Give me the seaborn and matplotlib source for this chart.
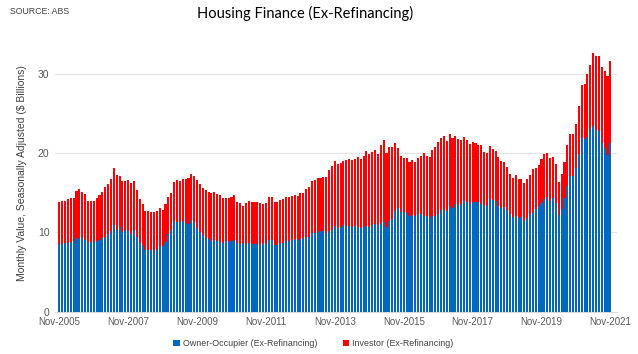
import matplotlib
matplotlib.use("Agg")
import matplotlib.pyplot as plt
from matplotlib.patches import Patch
import numpy as np
import pandas as pd
import seaborn as sns

# ---- data (monthly, Nov-2005 .. Nov-2021), $ billions ----
owner = [
    8.5, 8.55, 8.6, 8.7, 8.8, 8.85, 9.3, 9.2, 9.4, 9.05, 8.75, 8.75,
    8.75, 8.9, 9.0, 9.25, 9.45, 9.8, 10.2, 10.9, 10.3, 10.6, 10.0, 10.25,
    10.2, 9.8, 10.3, 9.4, 8.6, 8.3, 7.8, 7.8, 7.75, 7.6, 7.9, 8.2,
    8.3, 8.8, 9.8, 10.3, 11.4, 11.35, 11.3, 11.4, 11.15, 11.05, 11.6, 11.3,
    10.5, 10.05, 9.6, 9.3, 9.2, 8.9, 9.05, 8.85, 8.8, 8.7, 8.85, 8.8,
    8.9, 9.0, 8.6, 8.55, 8.65, 8.5, 8.65, 8.55, 8.55, 8.55, 8.4, 8.6,
    8.55, 9.05, 9.0, 8.35, 8.4, 8.6, 8.65, 8.85, 8.85, 9.05, 9.1, 9.05,
    9.2, 9.25, 9.45, 9.45, 9.95, 9.9, 10.0, 10.1, 10.1, 9.9, 10.15, 10.3,
    10.75, 10.5, 10.65, 10.85, 10.8, 10.8, 10.65, 10.8, 10.7, 10.5, 10.6, 10.8,
    10.7, 10.85, 11.05, 10.9, 11.2, 11.25, 10.6, 11.45, 11.7, 12.65, 13.0, 12.6,
    12.5, 12.45, 12.1, 12.2, 12.05, 12.35, 12.25, 12.1, 12.0, 11.8, 12.0, 12.05,
    12.35, 12.8, 12.85, 12.7, 13.3, 13.1, 13.5, 13.45, 13.6, 13.95, 13.8, 13.5,
    13.85, 13.8, 13.75, 13.6, 13.4, 13.35, 14.2, 14.05, 13.9, 13.3, 13.05, 13.15,
    12.75, 12.3, 11.9, 12.1, 11.75, 11.9, 11.4, 11.8, 12.3, 12.6, 12.9, 13.3,
    13.7, 14.2, 14.45, 13.9, 14.3, 13.65, 12.15, 12.9, 14.3, 15.85, 17.1, 17.1,
    18.15, 19.9, 21.9, 21.75, 22.0, 23.0, 23.4, 22.85, 22.8, 21.25, 20.65, 19.8,
    21.3,
]
investor = [
    5.35, 5.35, 5.4, 5.5, 5.5, 5.45, 5.9, 6.2, 5.7, 5.75, 5.15, 5.25,
    5.15, 5.4, 5.7, 5.85, 6.25, 6.3, 6.55, 7.2, 6.9, 6.5, 6.5, 6.15,
    6.4, 6.4, 6.2, 5.9, 5.6, 5.3, 4.85, 4.85, 4.85, 4.9, 4.8, 4.85,
    4.55, 4.8, 4.7, 4.7, 4.9, 5.2, 5.1, 5.3, 5.55, 5.8, 5.8, 5.8,
    6.1, 6.05, 5.95, 6.0, 5.9, 6.05, 6.0, 5.95, 5.9, 5.65, 5.45, 5.55,
    5.5, 5.7, 5.25, 5.15, 4.65, 5.2, 5.25, 5.25, 5.3, 5.3, 5.25, 4.9,
    5.15, 5.35, 5.4, 5.45, 5.45, 5.45, 5.6, 5.55, 5.55, 5.5, 5.65, 5.55,
    5.7, 5.75, 6.05, 6.25, 6.55, 6.65, 6.8, 6.75, 6.9, 7.1, 7.7, 8.05,
    8.2, 8.15, 8.1, 8.15, 8.25, 8.4, 8.4, 8.45, 8.75, 8.7, 9.05, 9.45,
    9.15, 9.25, 9.35, 8.95, 9.75, 10.35, 9.35, 9.35, 9.1, 8.65, 7.6, 7.05,
    6.85, 6.9, 6.7, 6.85, 6.85, 7.0, 7.35, 7.85, 7.65, 7.7, 8.35, 8.75,
    9.0, 9.1, 9.3, 8.85, 9.1, 8.8, 8.6, 8.3, 8.05, 8.05, 7.85, 7.6,
    7.5, 7.4, 7.25, 7.4, 6.7, 6.6, 6.65, 6.45, 6.4, 6.2, 5.95, 5.7,
    5.45, 5.0, 5.0, 5.1, 4.95, 4.8, 4.75, 4.95, 4.95, 5.4, 5.15, 5.2,
    5.55, 5.65, 5.5, 5.4, 5.2, 4.9, 4.15, 4.5, 4.6, 5.1, 5.25, 5.25,
    5.5, 6.05, 6.65, 7.0, 8.0, 8.1, 9.25, 9.35, 9.45, 9.6, 9.65, 9.85,
    10.3,
]
months = pd.date_range("2005-11-01", "2021-11-01", freq="MS").strftime("%b-%Y").tolist()
tick_labels = ["Nov-2005", "Nov-2007", "Nov-2009", "Nov-2011", "Nov-2013",
               "Nov-2015", "Nov-2017", "Nov-2019", "Nov-2021"]
y_ticks = [0, 10, 20, 30]

series_names = ["Owner-Occupier (Ex-Refinancing)", "Investor (Ex-Refinancing)"]
BLUE = "#0068BE"
RED = "#FF0000"

df = pd.DataFrame({"month": months, "owner": owner, "investor": investor})
df["total"] = df["owner"] + df["investor"]

sns.set_theme(style="white")
plt.rcParams["font.family"] = ["Liberation Sans", "DejaVu Sans"]

fig = plt.figure(figsize=(6.38, 3.54), dpi=100)
ax = fig.add_axes([55 / 638, 42.5 / 354, 562 / 638, 277.5 / 354])

sns.barplot(data=df, x="month", y="total", color=RED, saturation=1,
            width=0.72, ax=ax, linewidth=0, zorder=2)
sns.barplot(data=df, x="month", y="owner", color=BLUE, saturation=1,
            width=0.72, ax=ax, linewidth=0, zorder=3)

ax.set_xlim(-1.5, 194.3)
ax.set_ylim(0, 35)
ax.set_yticks(y_ticks)
ax.set_yticklabels([str(v) for v in y_ticks], fontsize=7.5, color="#595959")
tick_pos = [months.index(t) for t in tick_labels]
ax.set_xticks(tick_pos)
ax.set_xticklabels(tick_labels, fontsize=7, color="#595959")
ax.tick_params(axis="both", length=0, pad=4)
ax.set_xlabel("")
ax.set_ylabel("Monthly Value, Seasonally Adjusted ($ Billions)", fontsize=7.5,
              color="#404040", labelpad=8)

ax.grid(axis="y", color="#E3E3E3", linewidth=0.8, zorder=0)
ax.set_axisbelow(True)
for s in ["top", "right", "left"]:
    ax.spines[s].set_visible(False)
ax.spines["bottom"].set_color("#D9D9D9")
ax.spines["bottom"].set_linewidth(0.8)

fig.text(0.478, 0.962, "Housing Finance (Ex-Refinancing)", ha="center", va="center",
         fontsize=10.5, family=["Lato", "DejaVu Sans"], color="#000000")
fig.text(10 / 638, 0.968, "SOURCE: ABS", ha="left", va="center",
         fontsize=6.3, color="#404040")

handles = [Patch(facecolor=BLUE, edgecolor="none"), Patch(facecolor=RED, edgecolor="none")]
fig.legend(handles, series_names, loc="center", bbox_to_anchor=(0.491, 0.03), ncol=2,
           frameon=False, fontsize=6.4, handlelength=0.75, handleheight=0.75,
           handletextpad=0.3, columnspacing=2.9, labelcolor="#404040")

fig.savefig("out.png", dpi=100)
